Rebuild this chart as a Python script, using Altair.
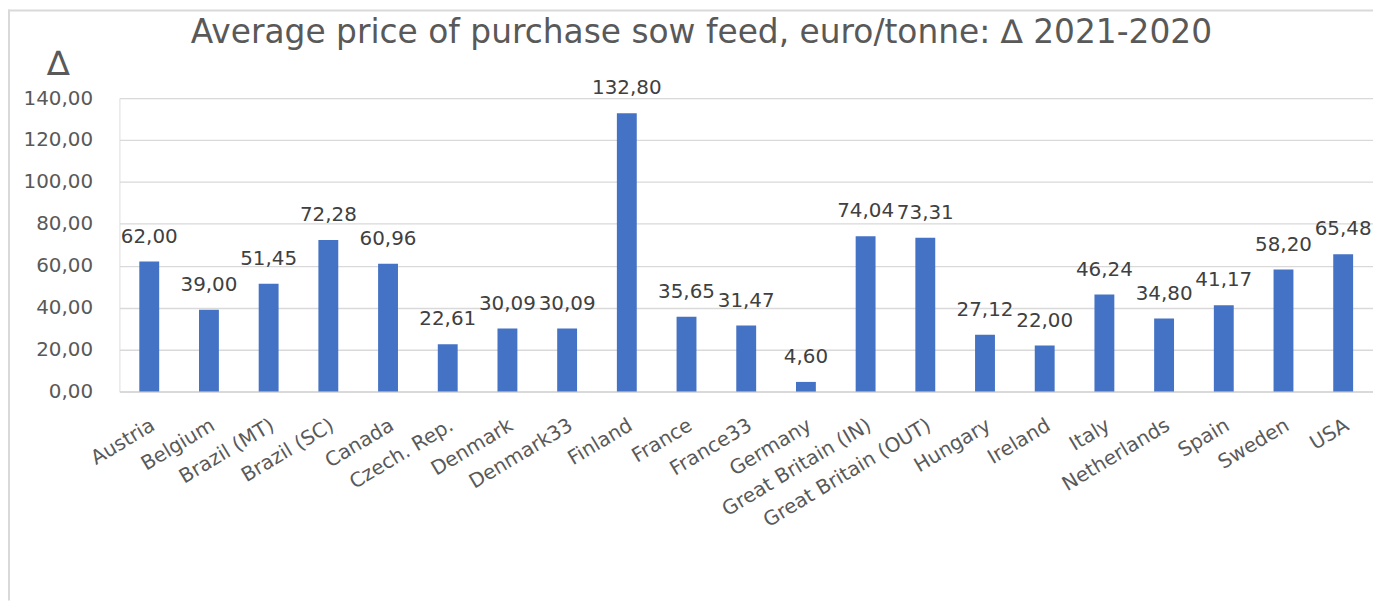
import altair as alt
import pandas as pd

countries = ["Austria", "Belgium", "Brazil (MT)", "Brazil (SC)", "Canada", "Czech. Rep.",
             "Denmark", "Denmark33", "Finland", "France", "France33", "Germany",
             "Great Britain (IN)", "Great Britain (OUT)", "Hungary", "Ireland", "Italy",
             "Netherlands", "Spain", "Sweden", "USA"]
values = [62.00, 39.00, 51.45, 72.28, 60.96, 22.61,
          30.09, 30.09, 132.80, 35.65, 31.47, 4.60,
          74.04, 73.31, 27.12, 22.00, 46.24,
          34.80, 41.17, 58.20, 65.48]
y_ticks = [0, 20, 40, 60, 80, 100, 120, 140]

title_text = "Average price of purchase sow feed, euro/tonne: \u2206 2021-2020"

df = pd.DataFrame({
    "country": countries,
    "value": values,
    "label": [f"{v:.2f}".replace(".", ",") for v in values],
})

FONT = "DejaVu Sans"
GRAY = "#595959"
GRID = "#d9d9d9"
W, H = 1260, 295

x_enc = alt.X("country:N", sort=countries, title=None,
              scale=alt.Scale(paddingInner=0.667, paddingOuter=0.333),
              axis=alt.Axis(labelAngle=-31, labelAlign="right", labelBaseline="middle",
                            labelPadding=32, ticks=False, tickSize=0, labelOverlap=False,
                            labelLimit=400, labelFont=FONT, labelFontSize=20,
                            labelColor=GRAY, domainColor=GRID, domainWidth=2,
                            grid=False, labelOffset=4))
y_enc = alt.Y("value:Q", title="\u2206",
              scale=alt.Scale(domain=[0, 140], nice=False),
              axis=alt.Axis(values=y_ticks, labelExpr="replace(format(datum.value, '.2f'), '.', ',')",
                            ticks=False, tickSize=0, domain=False, labelPadding=27,
                            labelFont=FONT, labelFontSize=20, labelColor=GRAY,
                            gridColor=GRID, gridWidth=1.3,
                            titleAngle=0, titleX=-62, titleY=-34, titleAlign="center",
                            titleBaseline="middle", titleFont=FONT, titleFontSize=34,
                            titleFontWeight="normal", titleColor=GRAY))

base = alt.Chart(df)
bars = base.mark_bar(color="#4472C4").encode(x=x_enc, y=y_enc)
labels = base.mark_text(font=FONT, fontSize=20, color="#404040", baseline="alphabetic",
                        dy=-19).encode(x=alt.X("country:N", sort=countries), y="value:Q",
                                       text="label:N")

frame_df = pd.DataFrame({"k": [0]})
left_border = alt.Chart(frame_df).mark_rule(color=GRID, strokeWidth=2).encode(
    x=alt.value(-111), y=alt.value(-89), y2=alt.value(H + 210))
top_border = alt.Chart(frame_df).mark_rule(color=GRID, strokeWidth=2).encode(
    x=alt.value(-112), x2=alt.value(W), y=alt.value(-88))

chart = alt.layer(left_border, top_border, bars, labels).properties(
    width=W, height=H,
    title=alt.TitleParams(title_text, anchor="middle", frame="group", dx=-45, offset=-68,
                          baseline="alphabetic", font=FONT, fontSize=33,
                          fontWeight="normal", color=GRAY),
    autosize=alt.AutoSizeParams(type="none"),
    padding={"left": 112, "top": 89, "right": 0, "bottom": 210},
).configure_view(stroke=None).configure(background="white")

chart.save("out.html", embed_options={"renderer": "svg", "actions": False})
